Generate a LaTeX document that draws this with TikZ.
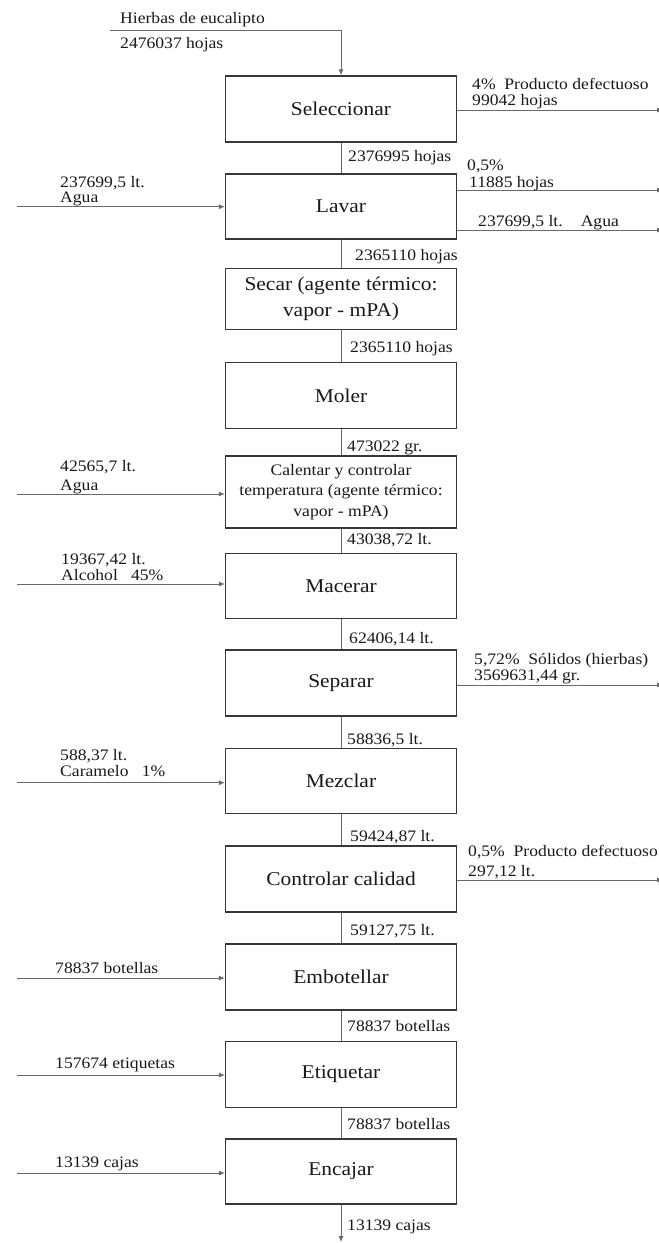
\documentclass[tikz,border=0pt]{standalone}
\usepackage{fontspec}
\setmainfont[FakeStretch=1.1]{Liberation Serif}
\usetikzlibrary{arrows.meta}
\definecolor{boxline}{RGB}{55,55,55}
\definecolor{flowline}{RGB}{105,105,105}
\definecolor{ink}{RGB}{25,25,25}
\begin{document}
\begin{tikzpicture}[x=1pt,y=-1pt,
  stage/.style={draw=boxline, line width=1.2pt, minimum width=231pt,
    inner sep=0pt, align=center, text=ink,
    font=\fontsize{19.5}{26}\selectfont},
  smallstage/.style={stage, font=\fontsize{16}{20.5}\selectfont},
  flow/.style={draw=flowline, line width=0.9pt},
  flowin/.style={flow, -{Latex[length=6pt,width=5pt]}},
  qty/.style={anchor=base west, inner sep=0pt, text=ink,
    font=\fontsize{16}{19}\selectfont},
]
\useasboundingbox[fill=white] (0,0) rectangle (659,1243);

% process stages
\node[stage, minimum height=66pt] (sel) at (341,109)   {Seleccionar};
\node[stage, minimum height=65pt] (lav) at (341,206.5) {Lavar};
\node[stage, minimum height=61pt] (sec) at (341,298.7) {Secar (agente térmico:\\vapor - mPA)};
\node[stage, minimum height=66pt] (mol) at (341,395.5) {Moler};
\node[smallstage, minimum height=72pt] (cal) at (341,492) {Calentar y controlar\\temperatura (agente térmico:\\vapor - mPA)};
\node[stage, minimum height=65pt] (mac) at (341,586)   {Macerar};
\node[stage, minimum height=66pt] (sep) at (341,683)   {Separar};
\node[stage, minimum height=65pt] (mez) at (341,781)   {Mezclar};
\node[stage, minimum height=66pt] (cc)  at (341,879)   {Controlar calidad};
\node[stage, minimum height=66pt] (emb) at (341,977)   {Embotellar};
\node[stage, minimum height=66pt] (eti) at (341,1074.5){Etiquetar};
\node[stage, minimum height=65pt] (enc) at (341,1171.5){Encajar};

% main line between stages
\draw[flow] (sel) -- (lav);
\draw[flow] (lav) -- (sec);
\draw[flow] (sec) -- (mol);
\draw[flow] (mol) -- (cal);
\draw[flow] (cal) -- (mac);
\draw[flow] (mac) -- (sep);
\draw[flow] (sep) -- (mez);
\draw[flow] (mez) -- (cc);
\draw[flow] (cc)  -- (emb);
\draw[flow] (emb) -- (eti);
\draw[flow] (eti) -- (enc);

% raw material feed and final output
\coordinate (src) at (110,30);
\draw[flowin] (src) -- (src -| sel.north) -- (sel.north);
\coordinate (sink) at (341,1242);
\draw[flowin] (enc.south) -- (sink);

% inputs from the left
\coordinate (inlav) at (17,206.7);
\coordinate (incal) at (17,494);
\coordinate (inmac) at (17,584);
\coordinate (inmez) at (17,782.7);
\coordinate (inemb) at (17,978);
\coordinate (ineti) at (17,1075);
\coordinate (inenc) at (17,1173);
\draw[flowin] (inlav) -- (inlav -| lav.west);
\draw[flowin] (incal) -- (incal -| cal.west);
\draw[flowin] (inmac) -- (inmac -| mac.west);
\draw[flowin] (inmez) -- (inmez -| mez.west);
\draw[flowin] (inemb) -- (inemb -| emb.west);
\draw[flowin] (ineti) -- (ineti -| eti.west);
\draw[flowin] (inenc) -- (inenc -| enc.west);

% outputs to the right
\coordinate (outsel)  at (663,110);
\coordinate (outlav1) at (663,190);
\coordinate (outlav2) at (663,230);
\coordinate (outsep)  at (663,685);
\coordinate (outcc)   at (663,880);
\draw[flowin] (outsel -| sel.east) -- (outsel);
\draw[flowin] (outlav1 -| lav.east) -- (outlav1);
\draw[flowin] (outlav2 -| lav.east) -- (outlav2);
\draw[flowin] (outsep -| sep.east) -- (outsep);
\draw[flowin] (outcc -| cc.east) -- (outcc);

% quantities along the main line
\node[qty] (q1)  at (348,161)  {2376995 hojas};
\node[qty] (q2)  at (355,260)  {2365110 hojas};
\node[qty] (q3)  at (350,352)  {2365110 hojas};
\node[qty] (q4)  at (347,451)  {473022 gr.};
\node[qty] (q5)  at (347,544)  {43038,72 lt.};
\node[qty] (q6)  at (349,643)  {62406,14 lt.};
\node[qty] (q7)  at (347,744)  {58836,5 lt.};
\node[qty] (q8)  at (350,841)  {59424,87 lt.};
\node[qty] (q9)  at (350,935)  {59127,75 lt.};
\node[qty] (q10) at (347,1031) {78837 botellas};
\node[qty] (q11) at (347,1129) {78837 botellas};
\node[qty] (q12) at (347,1230) {13139 cajas};

% raw material
\node[qty] (srcname) at (120,23) {Hierbas de eucalipto};
\node[qty] (srcqty)  at (120,48) {2476037 hojas};

% input labels
\node[qty] (lavin1) at (60,187)  {237699,5 lt.};
\node[qty] (lavin2) at (60,202)  {Agua};
\node[qty] (calin1) at (60,471)  {42565,7 lt.};
\node[qty] (calin2) at (60,490)  {Agua};
\node[qty] (macin1) at (61,564)  {19367,42 lt.};
\node[qty] (macin2) at (61,580)  {Alcohol\ \ \ 45\%};
\node[qty] (mezin1) at (60,760)  {588,37 lt.};
\node[qty] (mezin2) at (60,776)  {Caramelo\ \ \ 1\%};
\node[qty] (embin)  at (55,973)  {78837 botellas};
\node[qty] (etiin)  at (55,1068) {157674 etiquetas};
\node[qty] (encin)  at (55,1167) {13139 cajas};

% output labels
\node[qty] (selout1) at (472,89)  {4\%\ \ Producto defectuoso};
\node[qty] (selout2) at (472,105) {99042 hojas};
\node[qty] (lavout1) at (467,170) {0,5\%};
\node[qty] (lavout2) at (469,187) {11885 hojas};
\node[qty] (lavout3) at (478,226) {237699,5 lt.\hspace{18pt}Agua};
\node[qty] (sepout1) at (474,664) {5,72\%\ \ Sólidos (hierbas)};
\node[qty] (sepout2) at (474,680) {3569631,44 gr.};
\node[qty] (ccout1)  at (468,856.5) {0,5\%\ \ Producto defectuoso};
\node[qty] (ccout2)  at (468,876.5) {297,12 lt.};
\end{tikzpicture}
\end{document}
